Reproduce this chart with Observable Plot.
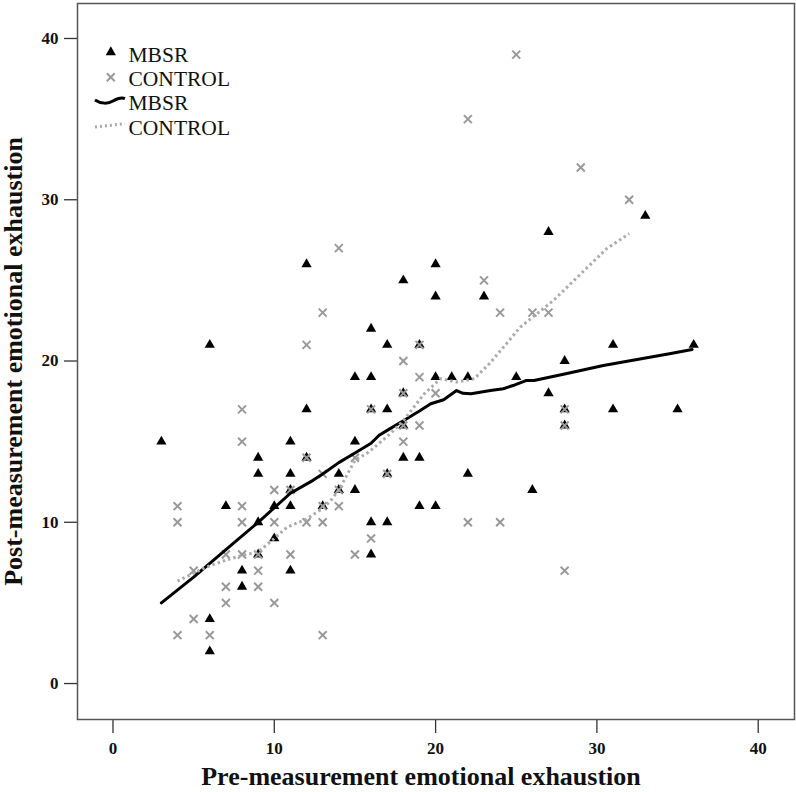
<!DOCTYPE html>
<html><head><meta charset="utf-8">
<script src="https://cdn.jsdelivr.net/npm/d3@7"></script>
<script src="https://cdn.jsdelivr.net/npm/@observablehq/plot@0.6"></script>
<style>body{margin:0;background:#fff;} svg{display:block;}</style>
</head><body><div id="chart"></div>
<script>
// MBSR group (triangles)
const mbsrX = [3,6,11,9,9,11,16,17,19,15,16,20,21,22,18,12,16,17,18,15,12,18,19,14,17,22,14,15,31,28,25,27,28,31,28,26,33,36,35,27,12,20,18,20,23,7,10,11,13,9,10,9,8,11,8,6,6,19,20,16,17,16,11];
const mbsrY = [15,21,15,14,13,13,22,21,21,19,19,19,19,19,18,17,17,17,16,15,14,14,14,13,13,13,12,12,21,20,19,18,17,17,16,12,29,21,17,28,26,26,25,24,24,11,11,11,11,10,9,8,7,7,6,4,2,11,11,10,10,8,12];
// CONTROL group (crosses)
const controlX = [8,8,10,11,13,12,19,18,19,18,20,16,18,19,18,12,15,13,17,14,24,26,27,28,28,32,25,22,29,14,23,4,8,13,14,4,8,10,12,13,7,8,9,11,5,9,7,9,7,10,5,4,6,13,22,24,16,15,28];
const controlY = [17,15,12,12,23,21,21,20,19,18,18,17,16,16,15,14,14,13,13,12,23,23,23,17,16,30,39,35,32,27,25,11,11,11,11,10,10,10,10,10,8,8,8,8,7,7,6,6,5,5,4,3,3,3,10,10,9,8,7];
// Fit lines (loess)
const mbsrFitX = [3,5,7,9,11,12.4,13,14,15,16,16.5,17,18,19,19.7,20.5,21.3,21.7,22.2,23.4,24.2,24.8,25.6,26.1,28,30.4,34.5,35.9];
const mbsrFitY = [5.0,6.6,8.3,10.0,11.8,12.6,13.0,13.7,14.3,14.9,15.4,15.7,16.3,16.9,17.35,17.6,18.17,18.0,17.97,18.17,18.28,18.48,18.79,18.79,19.2,19.72,20.45,20.71];
const controlFitX = [4,5,6,7,8,9,10,10.8,12,13,13.5,14,15,15.85,17.2,18,19.3,20.3,21.3,22.4,23.4,25.25,27.3,30.6,32];
const controlFitY = [6.35,6.85,7.3,7.65,7.95,8.15,9.0,9.7,10.2,10.85,11.35,12.0,13.85,14.35,15.5,16.3,17.97,18.9,18.7,18.9,19.9,22.1,23.75,26.96,27.9];

const xTicks = [0,10,20,30,40];
const yTicks = [0,10,20,30,40];
const xLabel = "Pre-measurement emotional exhaustion";
const yLabel = "Post-measurement emotional exhaustion";
const legendLabels = ["MBSR","CONTROL","MBSR","CONTROL"];

const mbsr = mbsrX.map((x,i)=>({x, y: mbsrY[i]}));
const control = controlX.map((x,i)=>({x, y: controlY[i]}));
const mbsrFit = mbsrFitX.map((x,i)=>({x, y: mbsrFitY[i]}));
const controlFit = controlFitX.map((x,i)=>({x, y: controlFitY[i]}));

const serif = "'Liberation Serif','Times New Roman',serif";
const legendDy = [51.3, 76, 99.3, 124.3];

const chart = Plot.plot({
  width: 796, height: 792,
  marginLeft: 77, marginRight: 2, marginTop: 3, marginBottom: 73,
  style: {fontFamily: serif, background: "#fff", color: "#111"},
  x: {domain: [-2.2, 42.25]},
  y: {domain: [-2.23, 42.17]},
  marks: [
    Plot.axisX({ticks: xTicks, tickSize: 14, tickPadding: 8, label: null, fontSize: 17, fontWeight: "bold", strokeWidth: 1.3, stroke: "#333"}),
    Plot.axisY({ticks: yTicks, tickSize: 13, tickPadding: 6, label: null, fontSize: 17, fontWeight: "bold", strokeWidth: 1.3, stroke: "#333"}),
    Plot.dot(mbsr, {x: "x", y: "y", symbol: "triangle", r: 3.8, fill: "#000", stroke: "none"}),
    Plot.dot(control, {x: "x", y: "y", symbol: "times", r: 3.7, stroke: "#999", strokeWidth: 2}),
    Plot.line(mbsrFit, {x: "x", y: "y", stroke: "#000", strokeWidth: 3}),
    Plot.line(controlFit, {x: "x", y: "y", stroke: "#aaa", strokeWidth: 3, strokeLinecap: "butt", strokeDasharray: "2.5,3"}),
    Plot.dot([legendLabels[0]], {frameAnchor: "top-left", dx: 33.3, dy: 48.7, symbol: "triangle", r: 3.8, fill: "#000", stroke: "none"}),
    Plot.dot([legendLabels[1]], {frameAnchor: "top-left", dx: 33.3, dy: 73.7, symbol: "times", r: 3.7, stroke: "#999", strokeWidth: 2}),
    ...legendLabels.map((t,i)=>Plot.text([t], {frameAnchor: "top-left", dx: 51, dy: legendDy[i], text: d=>d, textAnchor: "start", lineAnchor: "middle", fontSize: 21.5, fill: "#111"})),
    Plot.text([xLabel], {frameAnchor: "bottom", dx: -15, dy: 57.5, text: d=>d, textAnchor: "middle", lineAnchor: "middle", fontSize: 26, fontWeight: "bold", fill: "#111"}),
    Plot.text([yLabel], {frameAnchor: "left", dx: -64, text: d=>d, rotate: -90, textAnchor: "middle", lineAnchor: "middle", fontSize: 26, fontWeight: "bold", fill: "#111"}),
    Plot.frame({stroke: "#555", strokeWidth: 1.5})
  ]
});
document.getElementById("chart").append(chart);

// legend line swatches
const svg = d3.select(chart);
svg.append("path").attr("d", "M95,100 C101,104 108,104 113,101 S121,97 125,98.5")
  .attr("fill", "none").attr("stroke", "#000").attr("stroke-width", 3);
svg.append("path").attr("d", "M95,127 Q110,125.5 125,123.5")
  .attr("fill", "none").attr("stroke", "#aaa").attr("stroke-width", 3).attr("stroke-dasharray", "2,3");
</script>
</body></html>
